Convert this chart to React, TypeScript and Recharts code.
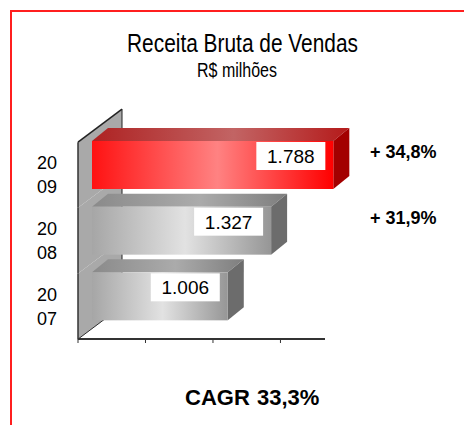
import { BarChart, Bar, XAxis, YAxis, LabelList } from 'recharts'

const years = ['2007', '2008', '2009']
const receita = [1006, 1327, 1788]
const crescimento = ['', '+ 31,9%', '+ 34,8%']
const xTicks = [0, 500, 1000, 1500]
const destaque = '2009'

const data = years.map((year, i) => ({ year, receita: receita[i], crescimento: crescimento[i] }))

const FONT = '"Liberation Sans", Arial, Helvetica, sans-serif'

// 3D projection: bars sit a bit behind the front plane of the axes
const OX = 14
const OY = -10
const DX = 16
const DY = -13
const WALL_DX = 44
const WALL_DY = -33

const fmt = (v: number) => String(v).replace(/\B(?=(\d{3})+(?!\d))/g, '.')

const palettes = {
  red: {
    front: ['#ff1212', '#ff8282', '#ff0000'],
    top: ['#ae2222', '#c26464', '#b41a1a'],
    side: '#a30000',
  },
  gray: {
    front: ['#a6a6a6', '#e2e2e2', '#969696'],
    top: ['#8a8a8a', '#ababab', '#7e7e7e'],
    side: '#6c6c6c',
  },
}

function Box3D(props: any) {
  const { x, y, width, height, index, payload } = props
  const p = payload?.year === destaque ? palettes.red : palettes.gray
  const fx = x + OX
  const fy = y + OY
  const id = `bx${index}`
  return (
    <g>
      <defs>
        <linearGradient id={`${id}f`} x1="0" y1="0" x2="1" y2="0">
          <stop offset="0%" stopColor={p.front[0]} />
          <stop offset="52%" stopColor={p.front[1]} />
          <stop offset="100%" stopColor={p.front[2]} />
        </linearGradient>
        <linearGradient id={`${id}t`} x1="0" y1="0" x2="1" y2="0">
          <stop offset="0%" stopColor={p.top[0]} />
          <stop offset="55%" stopColor={p.top[1]} />
          <stop offset="100%" stopColor={p.top[2]} />
        </linearGradient>
      </defs>
      <polygon
        points={`${fx},${fy} ${fx + DX},${fy + DY} ${fx + width + DX},${fy + DY} ${fx + width},${fy}`}
        fill={`url(#${id}t)`}
      />
      <polygon
        points={`${fx + width},${fy} ${fx + width + DX},${fy + DY} ${fx + width + DX},${fy + height + DY} ${fx + width},${fy + height}`}
        fill={p.side}
      />
      <rect x={fx} y={fy} width={width} height={height} fill={`url(#${id}f)`} />
    </g>
  )
}

function WallPiece(props: any) {
  const { x, y, height, index } = props
  const yTop = y - 8.8
  const yBot = y + height + 8.8
  const bx = x + WALL_DX
  return (
    <g>
      <polygon
        points={`${x},${yBot} ${x},${yTop} ${bx},${yTop + WALL_DY} ${bx},${yBot + WALL_DY}`}
        fill="#a9a9a9"
      />
      <line x1={x} y1={yTop} x2={x} y2={yBot} stroke="#333" strokeWidth={1.5} />
      <line x1={bx} y1={yTop + WALL_DY} x2={bx} y2={yBot + WALL_DY} stroke="#222" strokeWidth={1} />
      {index === years.length - 1 && (
        <line x1={x} y1={yTop} x2={bx} y2={yTop + WALL_DY} stroke="#222" strokeWidth={1.5} />
      )}
      {index === 0 && (
        <line x1={x} y1={yBot} x2={bx} y2={yBot + WALL_DY} stroke="#333" strokeWidth={1} />
      )}
    </g>
  )
}

function YearTick({ x, y, payload }: any) {
  const s = String(payload.value)
  return (
    <text textAnchor="end" fontSize={18} fontFamily={FONT} fill="#000">
      <tspan x={x} y={y - 5.5}>{s.slice(0, 2)}</tspan>
      <tspan x={x} y={y + 18.5}>{s.slice(2)}</tspan>
    </text>
  )
}

function ValueBox(props: any) {
  const vb = props.viewBox || props
  const right = vb.x + OX + vb.width - 8
  const top = vb.y + OY + 1
  return (
    <g>
      <rect x={right - 69} y={top} width={69} height={28} fill="#fff" />
      <text x={right - 34.5} y={top + 21} textAnchor="middle" fontSize={19} fontFamily={FONT} fill="#000">
        {fmt(Number(props.value))}
      </text>
    </g>
  )
}

function GrowthLabel(props: any) {
  const vb = props.viewBox || props
  if (!props.value) return null
  return (
    <text x={370} y={vb.y + vb.height / 2 - 17} fontSize={18} fontWeight="bold" fontFamily={FONT} fill="#000">
      {props.value}
    </text>
  )
}

export default function App() {
  return (
    <div style={{ position: 'absolute', left: 0, top: 0, width: 464, height: 425, background: '#fff', overflow: 'hidden' }}>
      <div
        style={{
          position: 'absolute',
          left: 10,
          top: 10,
          width: 460,
          height: 420,
          borderTop: '2px solid #ff1f1f',
          borderLeft: '2px solid #ff1f1f',
        }}
      />
      <BarChart
        width={464}
        height={425}
        data={data}
        layout="vertical"
        margin={{ top: 142, right: 139, bottom: 56, left: 0 }}
        barSize={48}
        style={{ position: 'absolute', left: 0, top: 0 }}
      >
        <XAxis
          type="number"
          domain={[0, 1830]}
          ticks={xTicks}
          height={30}
          tickFormatter={() => ''}
          axisLine={{ stroke: '#333', strokeWidth: 2 }}
          tickLine={{ stroke: '#333' }}
          tickSize={4}
        />
        <YAxis
          type="category"
          dataKey="year"
          reversed
          width={78}
          axisLine={false}
          tickLine={false}
          tickSize={0}
          tickMargin={21}
          tick={YearTick}
        />
        <Bar dataKey="receita" isAnimationActive={false} shape={Box3D} background={WallPiece}>
          <LabelList dataKey="receita" content={ValueBox} />
          <LabelList dataKey="crescimento" content={GrowthLabel} />
        </Bar>
      </BarChart>
      <svg width={464} height={425} style={{ position: 'absolute', left: 0, top: 0, pointerEvents: 'none' }}>
        <text x={242.5} y={52} textAnchor="middle" fontSize={26} fontFamily={FONT} textLength={231} lengthAdjust="spacingAndGlyphs">
          Receita Bruta de Vendas
        </text>
        <text x={237} y={77} textAnchor="middle" fontSize={19.5} fontFamily={FONT} textLength={80} lengthAdjust="spacingAndGlyphs">
          R$ milhões
        </text>
        <text y={405} fontSize={22} fontWeight="bold" fontFamily={FONT}>
          <tspan x={185}>CAGR</tspan>
          <tspan x={257}>33,3%</tspan>
        </text>
      </svg>
    </div>
  )
}
